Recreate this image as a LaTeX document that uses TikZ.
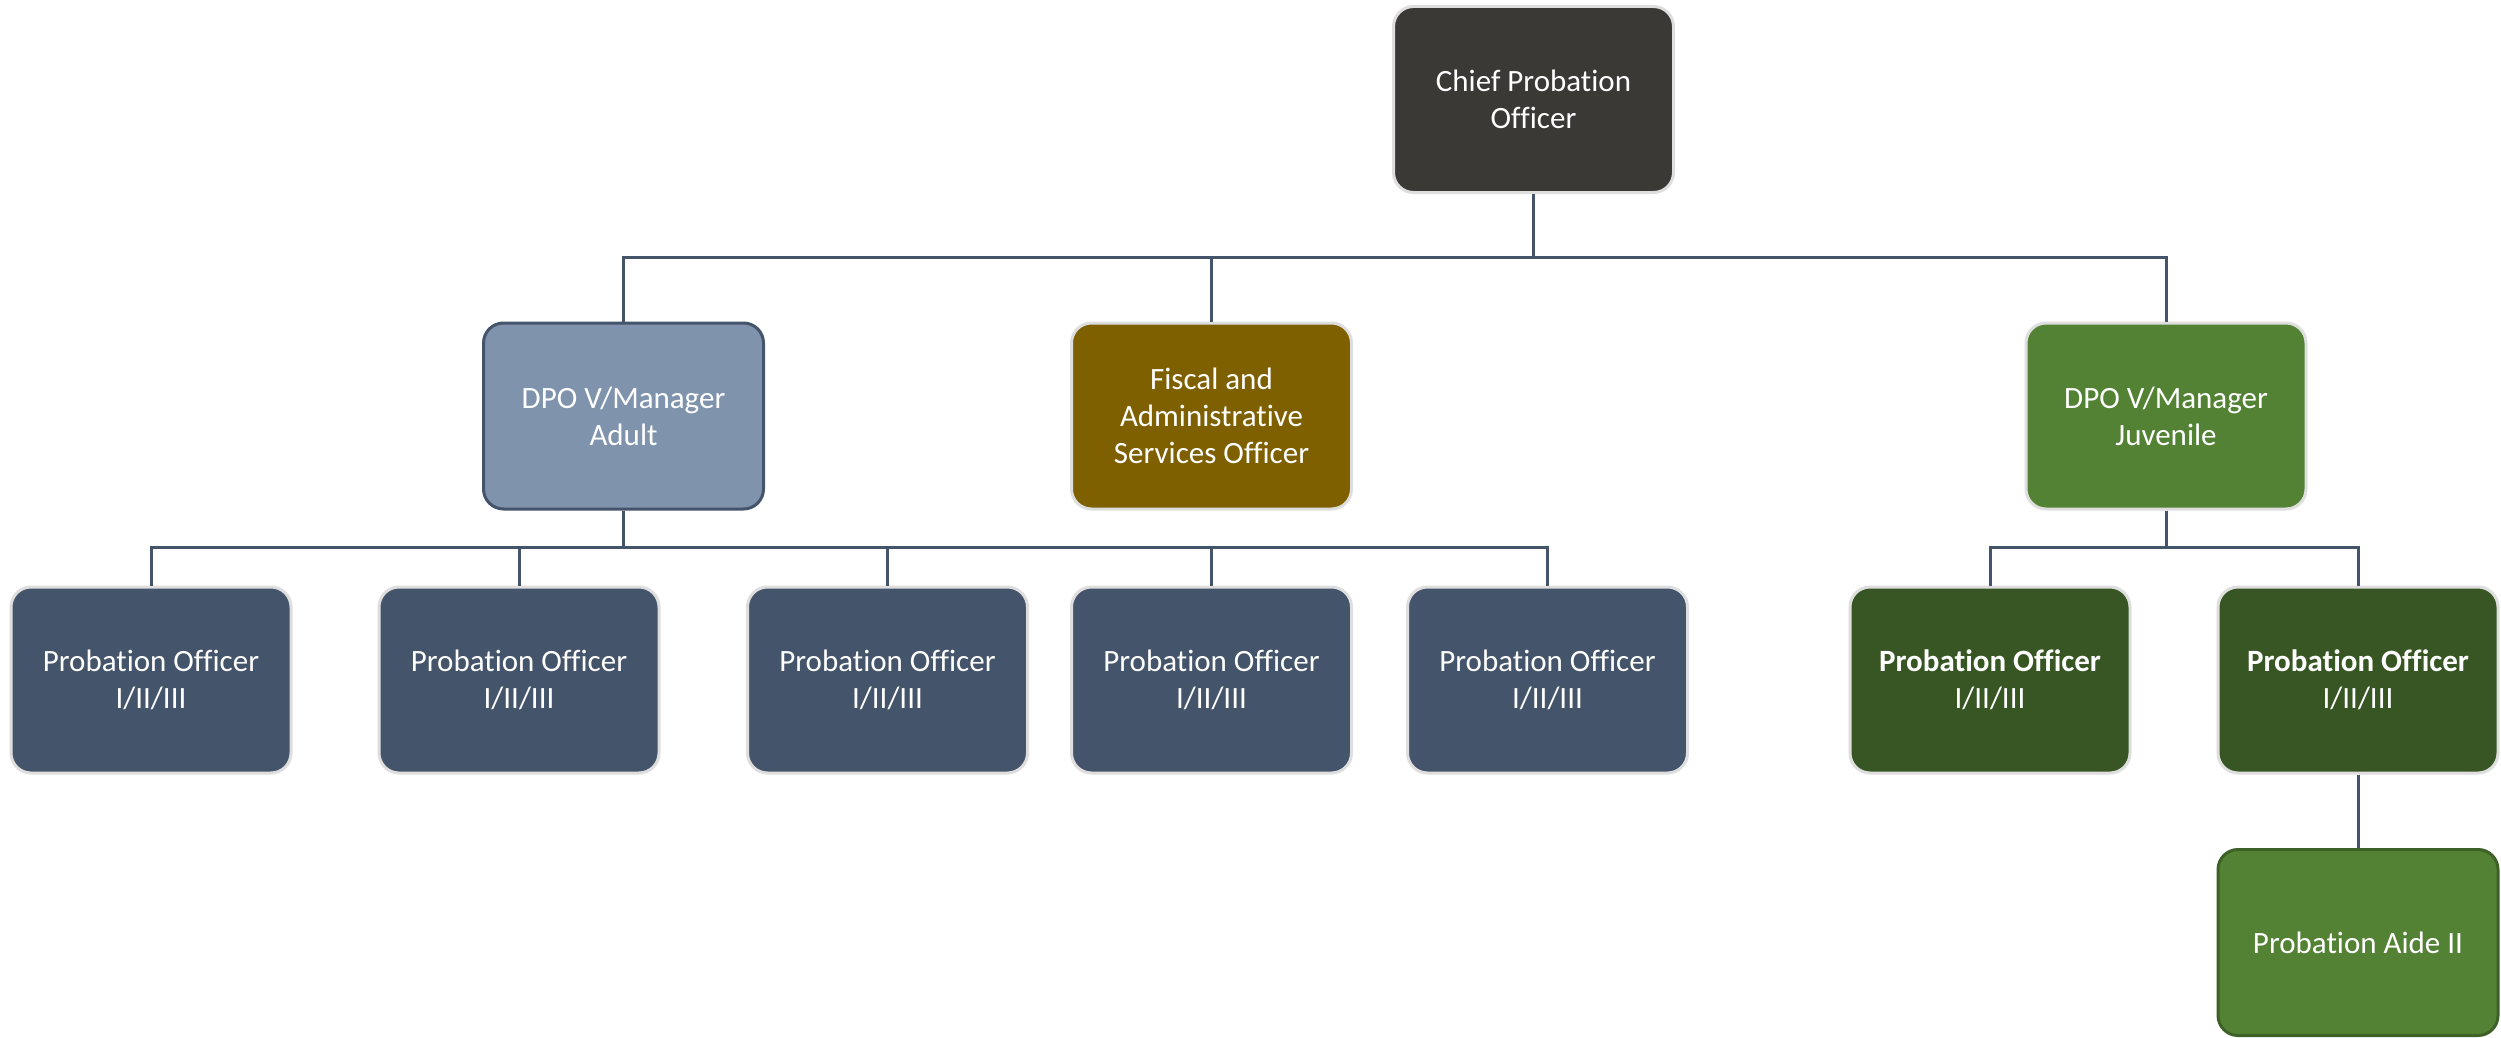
\documentclass[tikz,border=0pt]{standalone}
\usepackage{fontspec}
\setmainfont{Carlito}[Ligatures=NoCommon]
\definecolor{chiefc}{HTML}{3B3936}
\definecolor{paleedge}{HTML}{DEDEDE}
\definecolor{adultc}{HTML}{7F93AD}
\definecolor{slate}{HTML}{44546A}
\definecolor{fiscalc}{HTML}{7F6000}
\definecolor{greenc}{HTML}{548235}
\definecolor{darkgreen}{HTML}{375623}
\definecolor{aideedge}{HTML}{3E6128}
\tikzset{
  box/.style={rectangle, rounded corners=20pt, minimum width=280pt, minimum height=186pt,
    line width=3pt, draw=paleedge, text=white, align=center, inner sep=0pt,
    font=\fontsize{31}{37}\selectfont},
  link/.style={draw=slate, line width=3pt}
}
\begin{document}
\begin{tikzpicture}[x=1pt,y=-1pt]
\useasboundingbox (0,0) rectangle (2501,1038);
\fill[white] (0,0) rectangle (2501,1038);
% nodes
\node[box, fill=chiefc] (chief) at (1533.5,99.5) {Chief Probation\\Officer};
\node[box, fill=adultc, draw=slate] (adult) at (623.5,416) {DPO V/Manager\\Adult};
\node[box, fill=fiscalc] (fiscal) at (1211.5,416) {Fiscal and\\Administrative\\Services Officer};
\node[box, fill=greenc] (juv) at (2166,416) {DPO V/Manager\\Juvenile};
\node[box, fill=slate] (po1) at (151,680) {Probation Officer\\I/II/III};
\node[box, fill=slate] (po2) at (519,680) {Probation Officer\\I/II/III};
\node[box, fill=slate] (po3) at (887.5,680) {Probation Officer\\I/II/III};
\node[box, fill=slate] (po4) at (1211.5,680) {Probation Officer\\I/II/III};
\node[box, fill=slate] (po5) at (1547.5,680) {Probation Officer\\I/II/III};
\node[box, fill=darkgreen] (jpo1) at (1990,680) {\textbf{Probation Officer}\\I/II/III};
\node[box, fill=darkgreen] (jpo2) at (2358,680) {\textbf{Probation Officer}\\I/II/III};
\node[box, fill=greenc, draw=aideedge] (aide) at (2358,942.5) {Probation Aide II};
% bus coordinates
\coordinate (bustop) at (1533.5,257);
\coordinate (busadult) at (623.5,547);
\coordinate (busjuv) at (2166,547);
% connectors
\draw[link] (chief.south) -- (bustop);
\draw[link] (bustop) -| (adult.north);
\draw[link] (bustop) -| (fiscal.north);
\draw[link] (bustop) -| (juv.north);
\draw[link] (adult.south) -- (busadult);
\draw[link] (busadult) -| (po1.north);
\draw[link] (busadult) -| (po2.north);
\draw[link] (busadult) -| (po3.north);
\draw[link] (busadult) -| (po4.north);
\draw[link] (busadult) -| (po5.north);
\draw[link] (juv.south) -- (busjuv);
\draw[link] (busjuv) -| (jpo1.north);
\draw[link] (busjuv) -| (jpo2.north);
\draw[link] (jpo2.south) -- (aide.north);
\end{tikzpicture}
\end{document}
